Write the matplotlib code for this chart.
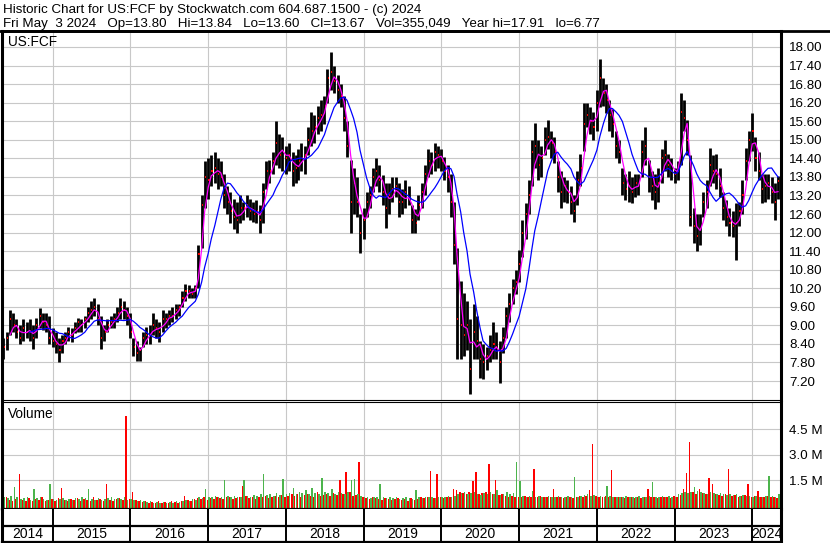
import numpy as np
import pandas as pd
import matplotlib
matplotlib.use('Agg')
import matplotlib.pyplot as plt
import matplotlib.dates as mdates
from matplotlib.lines import Line2D

# semi-monthly sample points, May 2014 -> May 2024
dates = pd.date_range('2014-05-15', periods=240, freq='SMS')

# price envelope (high / low / close) per half month
hi = [8.6, 8.8, 9.5, 9.4, 9.2, 9.0, 9.2, 9.1, 9.2, 9.0,
      9.25, 9.55, 9.4, 9.4, 9.3, 8.9, 8.8, 8.6, 8.7, 8.8,
      8.95, 8.9, 9.1, 9.25, 9.2, 9.3, 9.6, 9.8, 9.9, 9.7,
      9.3, 9.0, 9.2, 9.3, 9.4, 9.6, 9.9, 9.8, 9.6, 9.4,
      8.6, 8.5, 8.3, 8.8, 8.95, 9.0, 9.4, 9.2, 9.1, 9.5,
      9.4, 9.5, 9.6, 9.7, 9.7, 10.1, 10.35, 10.3, 10.2, 10.3,
      11.6, 13.2, 14.3, 14.4, 14.5, 14.6, 14.4, 14.3, 13.9, 13.5,
      13.3, 13.1, 13.0, 13.2, 13.0, 13.2, 13.1, 13.0, 13.05, 12.9,
      13.6, 14.3, 14.35, 14.6, 15.6, 15.2, 15.1, 14.8, 14.9, 14.6,
      14.5, 14.7, 14.9, 14.8, 15.4, 15.9, 15.8, 16.1, 16.3, 16.4,
      17.3, 17.85, 17.4, 17.1, 16.8, 16.4, 15.6, 14.35, 14.1, 13.8,
      12.6, 12.8, 13.3, 13.5, 14.1, 14.4, 14.2, 13.85, 13.6, 13.6,
      13.8, 13.8, 13.6, 13.4, 13.7, 13.5, 12.9, 12.75, 13.2, 13.6,
      14.2, 14.7, 14.6, 14.9, 14.8, 14.7, 14.45, 14.2, 13.9, 13.0,
      11.5, 10.45, 10.05, 9.8, 9.2, 9.7, 9.3, 8.5, 8.4, 8.3,
      8.7, 9.1, 8.8, 8.5, 8.95, 9.6, 10.05, 10.5, 10.8, 11.45,
      12.4, 12.95, 13.7, 15.0, 15.55, 15.0, 14.8, 15.4, 15.65, 15.3,
      15.1, 14.3, 14.0, 13.8, 13.7, 13.5, 13.2, 14.0, 14.55, 16.2,
      16.2, 16.05, 15.9, 16.6, 17.6, 17.0, 16.8, 16.3, 16.0, 15.3,
      15.0, 14.1, 13.9, 14.0, 13.8, 13.9, 13.9, 15.0, 15.4, 14.35,
      14.0, 13.9, 14.1, 14.7, 15.0, 14.55, 14.4, 14.1, 14.3, 16.5,
      16.3, 15.65, 14.5, 12.8, 12.6, 12.6, 13.3, 13.7, 14.75, 14.5,
      14.55, 14.1, 13.3, 13.05, 12.8, 12.7, 12.95, 13.0, 13.7, 14.75,
      15.3, 15.85, 15.1, 14.6, 13.9, 13.9, 13.9, 13.8, 13.6, 13.84]

lo = [7.9, 8.2, 8.7, 8.8, 8.6, 8.4, 8.5, 8.6, 8.5, 8.25,
      8.6, 8.9, 8.85, 8.8, 8.4, 8.3, 8.1, 7.8, 8.1, 8.4,
      8.5, 8.45, 8.75, 8.8, 8.8, 8.9, 9.1, 9.2, 9.3, 9.0,
      8.25, 8.5, 8.8, 8.9, 8.9, 9.1, 9.2, 9.2, 9.0, 8.6,
      8.0, 7.85, 7.85, 8.3, 8.4, 8.4, 8.7, 8.6, 8.45, 8.8,
      8.9, 9.0, 9.1, 9.2, 9.3, 9.6, 9.8, 9.9, 9.9, 9.9,
      10.2, 11.5, 12.8, 13.1, 13.5, 13.6, 13.4, 13.5, 12.8, 12.6,
      12.3, 12.1, 12.0, 12.3, 12.4, 12.5, 12.4, 12.35, 12.3, 12.0,
      12.3, 13.4, 13.6, 13.9, 14.2, 14.1, 14.0, 13.9, 14.0, 13.5,
      13.6, 13.7, 14.0, 13.9, 14.5, 14.8, 14.9, 15.2, 15.3, 15.5,
      16.2, 16.6, 16.5, 16.2, 16.05, 15.3, 14.45, 12.0, 12.6, 12.5,
      11.35, 11.8, 12.5, 12.8, 13.3, 13.5, 13.3, 12.9, 12.15, 12.6,
      13.0, 13.15, 12.5, 12.6, 12.8, 12.9, 12.0, 12.0, 12.4, 12.8,
      13.2, 13.8, 13.9, 14.0, 14.1, 14.0, 13.7, 13.3, 12.5, 11.0,
      7.9, 7.9, 8.0, 8.2, 6.77, 7.9, 7.9, 7.3, 7.25, 7.55,
      7.8, 7.9, 7.9, 7.15, 8.1, 8.6, 9.1, 9.7, 10.0, 10.4,
      11.2, 11.8, 12.6, 13.5, 14.1, 13.7, 13.8, 14.5, 14.7, 14.4,
      14.25, 13.3, 12.8, 13.0, 12.95, 12.6, 12.35, 12.9, 13.5, 14.65,
      15.4, 15.2, 15.0, 15.3, 16.05, 16.1, 15.85, 15.3, 15.1, 14.4,
      14.25, 13.2, 13.05, 13.0, 12.95, 13.15, 13.2, 13.8, 14.2, 13.3,
      13.05, 12.75, 13.0, 13.6, 14.0, 13.8, 13.7, 13.6, 13.7, 14.2,
      15.3, 14.5, 12.2, 11.65, 11.4, 11.6, 12.5, 12.8, 13.5, 13.6,
      13.4, 13.15, 12.4, 12.2, 11.9, 11.85, 11.1, 12.2, 12.6, 13.7,
      14.3, 14.65, 14.0, 13.7, 12.95, 13.0, 13.1, 12.95, 12.4, 13.1]

cl = [8.3, 8.6, 9.2, 9.0, 8.8, 8.6, 8.9, 8.8, 8.8, 8.6,
      9.0, 9.3, 9.1, 9.0, 8.6, 8.5, 8.4, 8.2, 8.5, 8.6,
      8.8, 8.7, 8.9, 9.1, 9.0, 9.2, 9.4, 9.5, 9.6, 9.2,
      8.6, 8.8, 9.0, 9.1, 9.2, 9.4, 9.6, 9.5, 9.3, 8.8,
      8.3, 8.1, 8.2, 8.6, 8.7, 8.7, 9.0, 8.9, 8.8, 9.2,
      9.2, 9.3, 9.3, 9.5, 9.6, 9.9, 10.1, 10.1, 10.0, 10.2,
      11.3, 12.9, 13.8, 13.7, 14.0, 14.1, 13.9, 13.8, 13.2, 13.0,
      12.7, 12.5, 12.4, 12.8, 12.8, 12.9, 12.7, 12.6, 12.7, 12.4,
      13.3, 14.0, 14.0, 14.3, 14.9, 14.5, 14.6, 14.4, 14.5, 14.0,
      14.1, 14.3, 14.4, 14.5, 15.0, 15.3, 15.4, 15.7, 15.8, 16.1,
      17.0, 17.2, 16.9, 16.6, 16.4, 15.7, 14.8, 13.0, 13.6, 13.0,
      12.0, 12.4, 13.0, 13.2, 13.8, 14.0, 13.7, 13.3, 12.8, 13.2,
      13.4, 13.5, 13.0, 13.0, 13.3, 13.1, 12.4, 12.3, 12.9, 13.3,
      13.9, 14.3, 14.2, 14.6, 14.5, 14.3, 14.0, 13.8, 13.0, 11.6,
      9.2, 9.0, 8.7, 9.0, 7.6, 8.8, 8.5, 7.9, 7.8, 8.0,
      8.2, 8.4, 8.3, 7.8, 8.6, 9.3, 9.7, 10.2, 10.4, 11.0,
      12.0, 12.6, 13.2, 14.6, 14.8, 14.2, 14.4, 15.0, 15.1, 14.9,
      14.6, 13.8, 13.3, 13.5, 13.3, 13.0, 12.7, 13.7, 14.1, 15.5,
      15.8, 15.6, 15.4, 16.2, 17.0, 16.5, 16.3, 15.8, 15.5, 14.8,
      14.6, 13.6, 13.4, 13.5, 13.3, 13.6, 13.6, 14.6, 14.8, 13.8,
      13.5, 13.3, 13.6, 14.4, 14.5, 14.2, 14.0, 13.9, 14.0, 15.9,
      15.7, 15.0, 12.5, 12.2, 11.9, 12.1, 13.0, 13.3, 14.2, 14.0,
      13.9, 13.5, 12.8, 12.5, 12.3, 12.2, 12.3, 12.7, 13.2, 14.3,
      15.0, 15.3, 14.4, 14.0, 13.4, 13.5, 13.6, 13.3, 13.0, 13.67]

# peak daily volume (millions) per half month: down days / up days
vol_dn = [0.45, 0.5, 0.35, 0.3, 0.4, 1.85, 0.35, 0.3, 0.45, 0.3,
          0.4, 0.35, 0.5, 0.3, 0.35, 0.4, 0.3, 0.45, 1.04, 0.35,
          0.3, 0.4, 0.35, 0.45, 0.3, 0.4, 0.35, 0.3, 0.5, 0.35,
          0.4, 0.3, 1.27, 0.35, 0.3, 0.4, 0.45, 0.35, 5.27, 0.4,
          0.82, 0.35, 0.3, 0.25, 0.3, 0.2, 0.25, 0.2, 0.3, 0.2,
          0.25, 0.2, 0.3, 0.25, 0.2, 0.3, 0.57, 0.35, 0.3, 0.4,
          0.45, 0.4, 0.5, 0.35, 0.45, 0.4, 0.5, 0.45, 0.4, 0.55,
          0.5, 0.4, 0.45, 0.5, 1.15, 0.6, 0.45, 0.5, 0.4, 0.55,
          0.5, 0.6, 0.45, 0.55, 0.6, 0.5, 0.65, 0.55, 0.6, 0.7,
          0.6, 0.7, 0.55, 0.65, 0.7, 0.6, 0.55, 0.8, 0.6, 0.65,
          0.7, 0.6, 0.75, 0.65, 1.5, 0.7, 1.99, 0.8, 0.6, 0.65,
          2.57, 0.5, 0.45, 0.4, 0.5, 0.45, 0.4, 0.35, 0.45, 0.4,
          0.35, 0.4, 0.45, 0.35, 0.4, 0.3, 0.45, 0.35, 0.4, 0.5,
          0.45, 0.5, 2.02, 0.45, 1.9, 0.5, 0.45, 0.55, 0.5, 0.98,
          0.96, 0.8, 0.75, 0.7, 0.8, 1.46, 1.97, 0.7, 0.75, 0.8,
          2.48, 0.7, 1.54, 0.65, 0.7, 0.6, 0.55, 0.6, 0.5, 0.55,
          0.5, 0.6, 0.55, 0.5, 2.14, 0.55, 0.6, 0.5, 0.55, 0.5,
          0.98, 0.5, 0.55, 0.45, 0.5, 0.55, 0.45, 0.5, 0.6, 0.55,
          0.6, 0.92, 3.6, 0.6, 0.55, 0.5, 0.6, 0.55, 2.08, 0.5,
          0.55, 0.5, 0.45, 0.5, 0.55, 0.45, 0.5, 0.45, 0.5, 0.98,
          0.5, 0.55, 0.45, 0.5, 0.55, 0.5, 0.45, 0.6, 0.55, 0.65,
          0.98, 1.95, 3.77, 0.8, 0.7, 0.98, 0.75, 0.7, 1.62, 1.31,
          0.7, 0.65, 0.6, 0.7, 2.14, 0.6, 0.65, 0.55, 0.6, 0.65,
          1.27, 0.55, 0.6, 0.87, 0.5, 0.55, 0.6, 0.5, 0.55, 0.45]

vol_up = [0.5, 0.45, 0.6, 1.1, 0.5, 0.4, 0.45, 0.5, 0.35, 1.0,
          0.45, 0.5, 0.4, 0.35, 1.27, 0.4, 0.35, 0.4, 0.45, 0.35,
          0.4, 0.35, 0.45, 0.4, 0.5, 0.45, 1.0, 0.4, 0.35, 0.45,
          0.35, 0.4, 0.45, 0.5, 0.4, 0.45, 0.4, 0.5, 0.35, 0.4,
          0.35, 0.3, 0.35, 0.3, 0.25, 0.3, 0.2, 0.25, 0.2, 0.25,
          0.2, 0.25, 0.2, 0.3, 0.25, 0.3, 0.35, 0.3, 0.4, 0.35,
          0.5, 0.45, 0.98, 0.5, 0.55, 0.6, 0.5, 0.55, 1.5, 0.6,
          0.55, 0.6, 0.5, 0.55, 1.5, 0.6, 0.55, 0.65, 0.6, 0.7,
          1.85, 0.65, 0.7, 0.6, 0.75, 0.65, 1.56, 0.7, 0.75, 1.06,
          0.7, 0.8, 0.75, 0.92, 0.7, 1.06, 0.75, 0.7, 1.62, 0.8,
          0.75, 0.98, 0.7, 0.8, 0.75, 0.7, 0.8, 1.5, 1.56, 0.7,
          0.6, 0.55, 0.5, 0.45, 0.55, 0.5, 1.27, 0.5, 0.45, 0.5,
          0.45, 0.5, 0.4, 0.45, 0.5, 0.45, 0.4, 0.92, 0.5, 0.45,
          0.5, 0.55, 0.5, 0.45, 0.5, 0.55, 0.5, 0.6, 0.55, 0.6,
          0.7, 0.75, 0.8, 0.7, 0.75, 0.8, 0.7, 0.65, 0.75, 0.7,
          0.8, 0.7, 0.92, 0.65, 0.7, 0.8, 0.7, 0.75, 2.6, 1.46,
          0.6, 0.55, 0.6, 0.87, 0.55, 0.6, 0.5, 0.55, 0.6, 0.5,
          0.55, 0.6, 0.5, 0.55, 0.6, 0.5, 1.68, 0.55, 0.6, 0.65,
          0.7, 0.6, 0.65, 0.55, 0.6, 0.55, 1.17, 0.6, 0.55, 0.5,
          0.55, 0.5, 0.6, 0.55, 0.5, 0.55, 0.6, 0.5, 0.55, 0.6,
          1.39, 0.55, 0.5, 0.6, 0.55, 0.6, 0.5, 0.55, 0.7, 0.75,
          0.8, 0.75, 0.8, 1.12, 0.85, 0.8, 0.75, 0.7, 0.8, 0.75,
          0.7, 0.75, 0.7, 0.65, 0.7, 0.65, 0.7, 0.6, 0.65, 0.6,
          0.6, 0.55, 0.6, 0.5, 0.55, 0.6, 1.75, 0.6, 0.55, 0.7]

price_ticks = [7.2, 7.8, 8.4, 9.0, 9.6, 10.2, 10.8, 11.4, 12.0, 12.6, 13.2,
               13.8, 14.4, 15.0, 15.6, 16.2, 16.8, 17.4, 18.0]
vol_ticks = [1.5, 3.0, 4.5]
vol_tick_labels = ['1.5 M', '3.0 M', '4.5 M']
years = list(range(2014, 2025))

title_1 = 'Historic Chart for US:FCF by Stockwatch.com 604.687.1500 - (c) 2024'
title_2 = ('Fri May  3 2024   Op=13.80   Hi=13.84   Lo=13.60   Cl=13.67   '
           'Vol=355,049   Year hi=17.91   lo=6.77')

plt.rcParams['font.family'] = ['Liberation Sans', 'DejaVu Sans']
plt.rcParams['font.size'] = 9.4

GRID = '#c8c8c8'
W, H = 830, 543


def rect(x0, y0, x1, y1):
    # pixel box (top-left origin) -> figure fraction
    return [x0 / W, 1 - y1 / H, (x1 - x0) / W, (y1 - y0) / H]


fig = plt.figure(figsize=(W / 100, H / 100), dpi=100)
ax = fig.add_axes(rect(2, 31, 781, 400))
axv = fig.add_axes(rect(2, 402, 781, 509))
axd = fig.add_axes(rect(2, 509, 781, 542))

x = mdates.date2num(dates)
x0 = mdates.date2num(pd.Timestamp('2014-05-08'))
x1 = mdates.date2num(pd.Timestamp('2024-05-15'))
year_x = [mdates.date2num(pd.Timestamp(f'{y}-01-01')) for y in years[1:]]

close = pd.Series(cl)
ma_fast = close.rolling(3).mean()
ma_slow = close.rolling(9).mean()

# --- price panel
for yv in price_ticks:
    ax.axhline(yv, color=GRID, lw=0.8, zorder=0)
for xv in year_x:
    ax.axvline(xv, color=GRID, lw=0.8, zorder=0)
ax.vlines(x, lo, hi, color='black', lw=2.0, zorder=2)
ax.hlines(cl, x + 1, x + 6, color='red', lw=1.4, zorder=3)
ax.plot(x, ma_fast, color='#ff00ff', lw=0.9, zorder=4)
ax.plot(x, ma_slow, color='#0000ff', lw=0.9, zorder=4)
ax.set_xlim(x0, x1)
ax.set_ylim(6.587, 18.517)
ax.set_yticks(price_ticks)
ax.set_yticklabels([f'{v:.2f}' for v in price_ticks])
ax.yaxis.tick_right()
ax.tick_params(axis='y', length=0, pad=6, labelsize=9.6)
ax.set_xticks([])
ax.text(0.008, 0.970, 'US:FCF', transform=ax.transAxes, va='center', ha='left',
        fontsize=9.8)

# --- volume panel
vol_base = -0.18
for yv in vol_ticks:
    axv.axhline(yv, color=GRID, lw=0.8, zorder=0)
for xv in year_x:
    axv.axvline(xv, color=GRID, lw=0.8, zorder=0)
axv.bar(x - 3.7, np.array(vol_dn) - vol_base, bottom=vol_base, width=7.2,
        color='#ff0000', lw=0, zorder=2)
axv.bar(x + 3.7, np.array(vol_up) - vol_base, bottom=vol_base, width=7.2,
        color='#4cb44c', lw=0, zorder=2)
axv.set_xlim(x0, x1)
axv.set_ylim(vol_base, 6.09)
axv.set_yticks(vol_ticks)
axv.set_yticklabels(vol_tick_labels)
axv.yaxis.tick_right()
axv.tick_params(axis='y', length=0, pad=6, labelsize=9.6)
axv.set_xticks([])
axv.text(0.008, 0.889, 'Volume', transform=axv.transAxes, va='center', ha='left',
         fontsize=9.8)

# --- date strip
axd.set_xlim(x0, x1)
axd.set_ylim(0, 1)
axd.axhline(0.485, color='black', lw=1.6)
for xv in year_x:
    axd.axvline(xv, color='black', lw=1.4)
for y in years:
    a = max(mdates.date2num(pd.Timestamp(f'{y}-01-01')), x0)
    b = min(mdates.date2num(pd.Timestamp(f'{y + 1}-01-01')), x1)
    axd.text((a + b) / 2, 0.23, str(y), ha='center', va='center', fontsize=10)
axd.set_xticks([])
axd.set_yticks([])

# frame lines
for a_ in (ax, axv, axd):
    a_.spines['left'].set_linewidth(2.2)
    a_.spines['right'].set_linewidth(2.2)
ax.spines['top'].set_linewidth(2.0)
ax.spines['bottom'].set_linewidth(0.8)
axv.spines['top'].set_linewidth(0.8)
axv.spines['bottom'].set_linewidth(1.6)
axd.spines['top'].set_visible(False)
axd.spines['bottom'].set_linewidth(1.6)
fig.add_artist(Line2D([0, 1], [1 - 31 / H, 1 - 31 / H], color='black', lw=2.0))

fig.text(3 / W, 1 - 13 / H, title_1, va='baseline', ha='left', fontsize=9.6)
fig.text(3 / W, 1 - 27 / H, title_2, va='baseline', ha='left', fontsize=9.6)

fig.savefig('out.png', dpi=100)
